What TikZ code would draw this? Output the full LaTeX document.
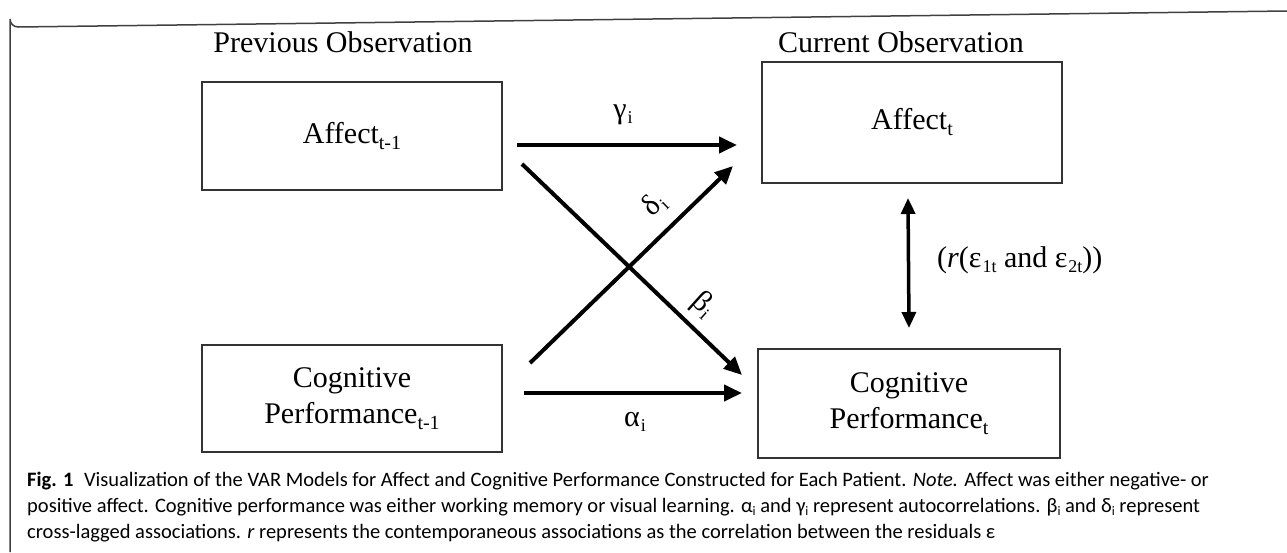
\documentclass[tikz,border=0pt]{standalone}
\usepackage{fontspec}
\setmainfont{Liberation Serif}
\newfontfamily\capfont{Carlito}
\usetikzlibrary{arrows.meta}
\newcommand\lsub[1]{\raisebox{-6pt}{\fontsize{20}{20}\selectfont #1}}
\newcommand\gsub[1]{\kern1pt\raisebox{-5pt}{\fontsize{18}{18}\selectfont #1}}
\newcommand\csub[1]{\raisebox{-3pt}{\fontsize{13}{13}\selectfont #1}}
\tikzset{
  box/.style={draw=black!80, line width=1.5pt, minimum width=300pt, align=center,
              font=\fontsize{30}{36}\selectfont, inner sep=0pt},
  arr/.style={line width=4pt, -{Triangle[length=18pt,width=16pt]}},
  darr/.style={line width=3.5pt, {Triangle[length=16pt,width=14pt]}-{Triangle[length=16pt,width=14pt]}},
  lab/.style={font=\fontsize{30}{30}\selectfont, inner sep=0pt},
  head/.style={font=\fontsize{30}{30}\selectfont, inner sep=0pt},
  captxt/.style={font=\capfont\fontsize{20.5}{20.5}\selectfont, anchor=base west, inner sep=0pt},
  frameline/.style={draw=black!75, line width=1.5pt}
}
\begin{document}
\begin{tikzpicture}[x=1pt,y=-1pt]
\useasboundingbox (0,0) rectangle (1287,552);
% frame
\draw[frameline] (10,552) -- (10,19) arc[start angle=180,end angle=90,radius=8] -- (1287,11);
% headers
\node[head] (h1) at (343,42) {Previous Observation};
\node[head] (h2) at (901,42) {Current Observation};
% boxes
\node[box, minimum height=108pt] (a1) at (352,136) {Affect\lsub{t-1}};
\node[box, minimum height=107pt] (c1) at (352,398.5) {Cognitive\\Performance\lsub{t-1}};
\node[box, minimum height=121pt] (a2) at (912,122.5) {Affect\lsub{t}};
\node[box, minimum height=109pt, minimum width=302pt] (c2) at (909,403.5) {Cognitive\\Performance\lsub{t}};
% arrow endpoints
\coordinate (gs) at (517,145); \coordinate (ge) at (737,145);
\coordinate (bs) at (522,164); \coordinate (be) at (742,375);
\coordinate (ds) at (530,363); \coordinate (de) at (733,166);
\coordinate (as) at (524,393); \coordinate (ae) at (742,393);
\coordinate (rs) at (908,198); \coordinate (re) at (909,328);
\draw[arr] (gs) -- (ge);
\draw[arr] (bs) -- (be);
\draw[arr] (ds) -- (de);
\draw[arr] (as) -- (ae);
\draw[darr] (rs) -- (re);
% labels
\node[lab] (lg) at (623,115) {γ\gsub{i}};
\node[lab] (la) at (635,422) {α\gsub{i}};
\node[lab, rotate=44] (ld) at (654,205) {δ\gsub{i}};
\node[lab, rotate=-42] (lb) at (703,305) {β\gsub{i}};
\node[lab, anchor=west] (lr) at (937,260) {(\textit{r}(ε\gsub{1t} and ε\gsub{2t}))};
% caption
\node[captxt] (cap1) at (27,486) {\textbf{Fig. 1}\hspace{6pt} Visualization of the VAR Models for Affect and Cognitive Performance Constructed for Each Patient. \textit{Note.} Affect was either negative- or};
\node[captxt] (cap2) at (27,512) {positive affect. Cognitive performance was either working memory or visual learning. α\csub{i} and γ\csub{i} represent autocorrelations. β\csub{i} and δ\csub{i} represent};
\node[captxt] (cap3) at (27,538) {cross-lagged associations. \textit{r} represents the contemporaneous associations as the correlation between the residuals ε};
\end{tikzpicture}
\end{document}
